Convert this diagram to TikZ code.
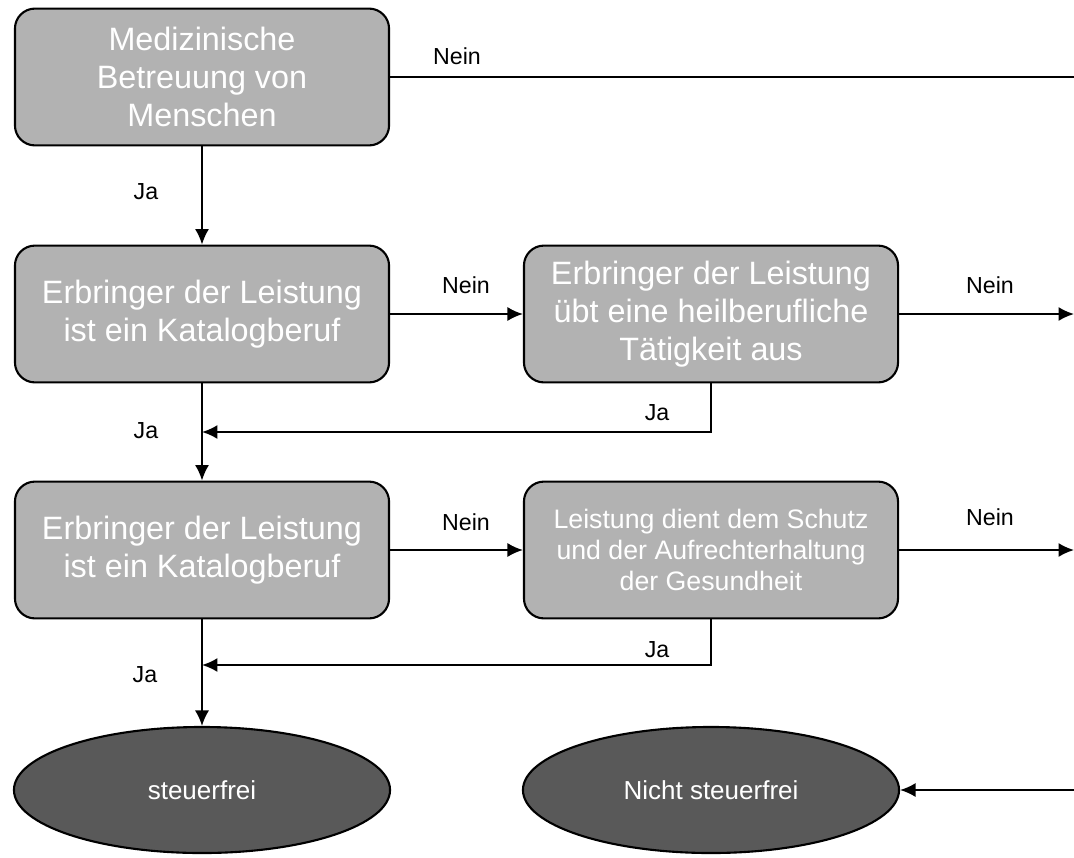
\documentclass[tikz,border=0pt]{standalone}
\usepackage{fontspec}
\setmainfont{Liberation Sans}
\usetikzlibrary{shapes.geometric,arrows.meta}

\begin{document}
\begin{tikzpicture}[x=0.025cm,y=-0.025cm,
    pruefbox/.style={draw,line width=1.5pt,fill=black!30,rounded corners=0.5cm,
        minimum width=9.35cm,minimum height=3.42cm,align=center,text=white,
        font=\fontsize{23}{27}\selectfont},
    endoval/.style={ellipse,draw,line width=1.5pt,fill=black!65,
        minimum width=9.4cm,minimum height=3.15cm,text=white,
        font=\fontsize{18.5}{22}\selectfont},
    linie/.style={line width=1.3pt},
    pfeil/.style={linie,-{Latex[length=11pt,width=10pt]}},
    lbl/.style={font=\fontsize{16.5}{19}\selectfont}]
    \useasboundingbox (0,0) rectangle (1074,857);
    % Pruefschritte
    \node[pruefbox] (betreuung) at (202,77) {Medizinische\\Betreuung von\\Menschen};
    \node[pruefbox] (katalog1) at (202,314) {Erbringer der Leistung\\ist ein Katalogberuf};
    \node[pruefbox] (heilberuf) at (711,314) {Erbringer der Leistung\\übt eine heilberufliche\\Tätigkeit aus};
    \node[pruefbox] (katalog2) at (202,550) {Erbringer der Leistung\\ist ein Katalogberuf};
    \node[pruefbox,font=\fontsize{19}{22}\selectfont] (schutz) at (711,550) {Leistung dient dem Schutz\\und der Aufrechterhaltung\\der Gesundheit};
    % Ergebnisse
    \node[endoval] (frei) at (202,790) {steuerfrei};
    \node[endoval] (nichtfrei) at (711,790) {Nicht steuerfrei};
    % Hilfspunkte
    \coordinate (rand1) at (1074,77);
    \coordinate (rand2) at (1074,314);
    \coordinate (rand3) at (1074,550);
    \coordinate (rand4) at (1074,790);
    \coordinate (ja1) at (202,432);
    \coordinate (ja2) at (202,665);
    % Verbindungen
    \draw[linie] (betreuung.east) -- (rand1);
    \draw[pfeil] (betreuung.south) -- (katalog1.north);
    \draw[pfeil] (katalog1.east) -- (heilberuf.west);
    \draw[pfeil] (heilberuf.east) -- (rand2);
    \draw[pfeil] (heilberuf.south) |- (ja1);
    \draw[pfeil] (katalog1.south) -- (katalog2.north);
    \draw[pfeil] (katalog2.east) -- (schutz.west);
    \draw[pfeil] (schutz.east) -- (rand3);
    \draw[pfeil] (schutz.south) |- (ja2);
    \draw[pfeil] (katalog2.south) -- (frei.north);
    \draw[pfeil] (rand4) -- (nichtfrei.east);
    % Beschriftungen
    \node[lbl] (nein1) at (457,56) {Nein};
    \node[lbl] (nein2) at (466,285) {Nein};
    \node[lbl] (nein3) at (990,285) {Nein};
    \node[lbl] (nein4) at (466,522) {Nein};
    \node[lbl] (nein5) at (990,517) {Nein};
    \node[lbl] (jaA) at (146,192) {Ja};
    \node[lbl] (jaB) at (146,431) {Ja};
    \node[lbl] (jaC) at (657,413) {Ja};
    \node[lbl] (jaD) at (145,675) {Ja};
    \node[lbl] (jaE) at (657,650) {Ja};
\end{tikzpicture}
\end{document}
